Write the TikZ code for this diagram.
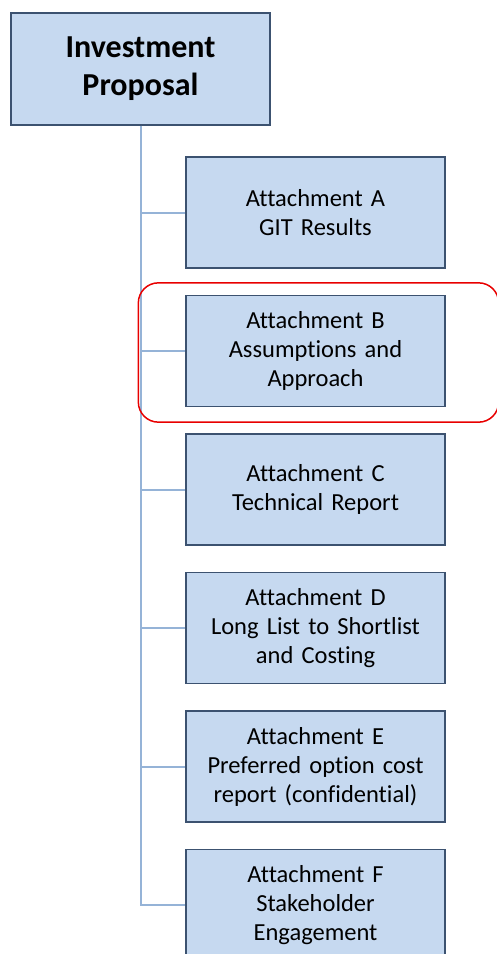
\documentclass[tikz,border=0pt]{standalone}
\usepackage{fontspec}
\setmainfont[Ligatures=NoCommon, WordSpace={0.7,0.5,0.3}]{Carlito}
\usepackage{tikz}
\usetikzlibrary{positioning, calc}
\definecolor{boxfill}{RGB}{198,217,240}
\definecolor{boxedge}{RGB}{60,82,112}
\definecolor{branchblue}{RGB}{149,179,215}
\definecolor{markred}{RGB}{232,0,0}
\tikzset{
  investbox/.style={rectangle, draw=boxedge, fill=boxfill,
    minimum width=259pt, minimum height=112pt, inner sep=0pt,
    text width=250pt, align=center, line width=1.3pt,
    font=\fontsize{32}{38}\selectfont\bfseries},
  attbox/.style={rectangle, draw=boxedge, fill=boxfill,
    minimum width=259pt, minimum height=111pt, inner sep=0pt,
    text width=250pt, align=center, line width=1.3pt,
    font=\fontsize{24.5}{29}\selectfont},
  branch/.style={draw=branchblue, line width=2pt},
  highlight/.style={draw=markred, line width=1.5pt, rounded corners=20pt}
}

\begin{document}
\begin{tikzpicture}[x=1pt, y=-1pt]
  \useasboundingbox (0,0) rectangle (496,954);
  % Nodes
  \node[investbox] (invest) at (140.5, 69) {Investment\\Proposal};

  \node[attbox] (attA) at (315.5, 212.5) {Attachment A\\GIT Results};
  \node[attbox] (attB) at (315.5, 351) {Attachment B\\Assumptions and\\Approach};
  \node[attbox] (attC) at (315.5, 489.5) {Attachment C\\Technical Report};
  \node[attbox] (attD) at (315.5, 628) {Attachment D\\Long List to Shortlist\\and Costing};
  \node[attbox] (attE) at (315.5, 766.5) {Attachment E\\Preferred option cost\\report (confidential)};
  \node[attbox] (attF) at (315.5, 905) {Attachment F\\Stakeholder\\Engagement};

  % Connections
  \draw[branch] (invest.south) |- (attF.west);
  \foreach \att in {attA, attB, attC, attD, attE}
    \draw[branch] (attF.west -| invest.south) |- (\att.west);

  % Highlight round Attachment B
  \draw[highlight] ($(attB.north west)+(-47,-12)$) rectangle ($(attB.south east)+(53,15)$);
\end{tikzpicture}
\end{document}
